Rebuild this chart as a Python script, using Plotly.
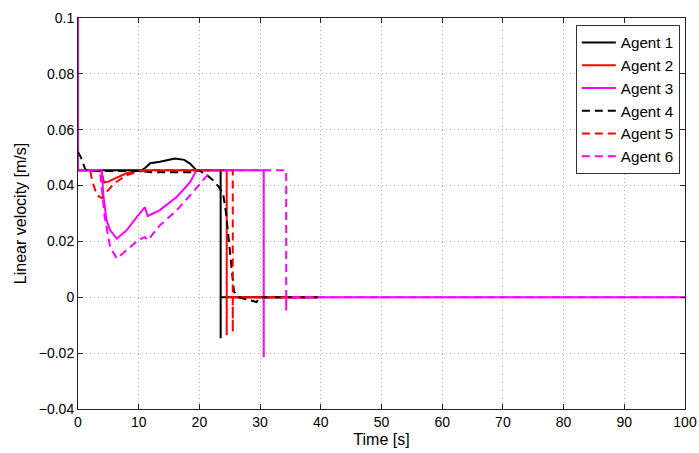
import plotly.graph_objects as go

# Agent 1 (black solid)
t1 = [0, 10.5, 11.0, 11.9, 13.5, 16.0, 17.5, 18.5, 19.5, 23.5, 23.5, 23.5, 39.5]
v1 = [0.0455, 0.0455, 0.0462, 0.0480, 0.0485, 0.0497, 0.0492, 0.0478, 0.0455, 0.0455, -0.0147, 0.0, 0.0]
# Agent 2 (red solid)
t2 = [0, 3.8, 4.3, 5.0, 6.1, 8.0, 10.0, 24.5, 24.5, 24.5, 39.5]
v2 = [0.0455, 0.0455, 0.0411, 0.0414, 0.0426, 0.0444, 0.0455, 0.0455, -0.0136, 0.0, 0.0]
# Agent 3 (magenta solid)
t3 = [0, 0, 3.9, 4.2, 4.7, 5.3, 6.4, 8.0, 9.7, 11.0, 11.5, 13.5, 16.3, 18.5, 19.5, 30.6, 30.6, 30.6, 100]
v3 = [0.1, 0.0455, 0.0455, 0.036, 0.0276, 0.024, 0.021, 0.024, 0.0288, 0.0322, 0.0291, 0.0312, 0.036, 0.0413, 0.0455, 0.0455, -0.0215, 0.0, 0.0]
# Agent 4 (black dashed)
t4 = [0, 0.5, 1.2, 2.0, 10.0, 12.0, 19.0, 19.8, 21.0, 22.2, 23.2, 23.9, 24.4, 24.8, 25.3, 25.7, 26.5, 28.0, 29.4, 30.0, 39.5]
v4 = [0.052, 0.050, 0.0458, 0.0452, 0.0452, 0.0448, 0.0448, 0.0455, 0.0442, 0.042, 0.0395, 0.0372, 0.030, 0.022, 0.012, 0.002, 0.0, -0.0008, -0.0017, 0.0, 0.0]
# Agent 5 (red dashed)
t5 = [0, 2.0, 2.3, 3.1, 3.9, 4.7, 6.1, 8.0, 10.0, 12.0, 25.5, 25.5, 25.5, 39.5]
v5 = [0.0455, 0.0455, 0.042, 0.0366, 0.0355, 0.0377, 0.041, 0.0437, 0.0450, 0.0455, 0.0455, -0.0125, 0.0, 0.0]
# Agent 6 (magenta dashed)
t6 = [0, 3.6, 4.4, 5.3, 6.4, 8.0, 9.9, 11.0, 11.5, 13.5, 16.3, 19.0, 21.2, 22.0, 34.3, 34.3, 34.3, 100]
v6 = [0.0455, 0.0455, 0.0288, 0.018, 0.0139, 0.0168, 0.0204, 0.0216, 0.0204, 0.0258, 0.0312, 0.0378, 0.0437, 0.0455, 0.0455, -0.0047, 0.0, 0.0]

names = ["Agent 1", "Agent 2", "Agent 3", "Agent 4", "Agent 5", "Agent 6"]
ts = [t1, t2, t3, t4, t5, t6]
vs = [v1, v2, v3, v4, v5, v6]
colors = ["#000000", "#ff0000", "#ff00ff", "#000000", "#ff0000", "#ff00ff"]
dashes = ["solid", "solid", "solid", "8px,5px", "8px,5px", "8px,5px"]

fig = go.Figure()
for n, t, v, c, d in zip(names, ts, vs, colors, dashes):
    fig.add_trace(go.Scatter(x=t, y=v, mode="lines", name=n,
                             line=dict(color=c, width=2, dash=d)))

font = "Liberation Sans, Arial, sans-serif"
fig.update_layout(
    width=699, height=453,
    margin=dict(l=78, r=14, t=18, b=44),
    paper_bgcolor="white", plot_bgcolor="white",
    font=dict(family=font, size=14, color="black"),
    showlegend=True,
    legend=dict(x=0.9915, y=0.982, xanchor="right", yanchor="top",
                bgcolor="white", bordercolor="#333333", borderwidth=1,
                font=dict(size=15.2, family=font), tracegroupgap=0, itemwidth=34),
)
axis_common = dict(showline=True, linecolor="#222222", linewidth=1, mirror="allticks",
                   ticks="inside", ticklen=5, tickcolor="#222222",
                   showgrid=True, gridcolor="#b4b4b4", griddash="1px,3px", gridwidth=1,
                   zeroline=False, tickfont=dict(size=14, family=font), automargin=False)
fig.update_xaxes(range=[0, 100], tickvals=[0, 10, 20, 30, 40, 50, 60, 70, 80, 90, 100],
                 title=dict(text="Time [s]", font=dict(size=16), standoff=5), **axis_common)
fig.update_yaxes(range=[-0.04, 0.1], tickvals=[-0.04, -0.02, 0, 0.02, 0.04, 0.06, 0.08, 0.1],
                 title=dict(text="Linear velocity [m/s]", font=dict(size=16), standoff=8), **axis_common)

fig.write_html("out.html", config={"displayModeBar": False},
               post_script="document.body.style.margin='0';document.body.style.overflow='hidden';")
